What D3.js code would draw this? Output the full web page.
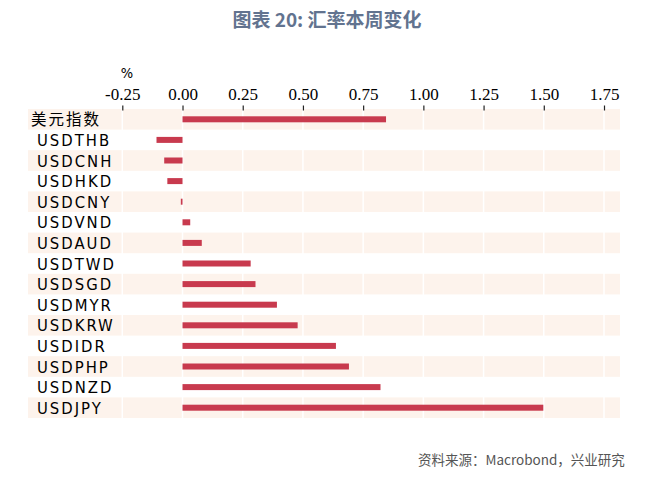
<!DOCTYPE html>
<html>
<head>
<meta charset="utf-8">
<script src="https://cdn.jsdelivr.net/npm/d3@7"></script>
<style>
  body { margin: 0; background: #fff; }
  svg { display: block; }
</style>
</head>
<body>
<div id="chart"></div>
<script>
// Data
var categories = ['美元指数', 'USDTHB', 'USDCNH', 'USDHKD', 'USDCNY', 'USDVND', 'USDAUD',
    'USDTWD', 'USDSGD', 'USDMYR', 'USDKRW', 'USDIDR', 'USDPHP', 'USDNZD', 'USDJPY'];
var weeklyChange = [0.845, -0.108, -0.076, -0.063, -0.007, 0.032, 0.080,
    0.283, 0.303, 0.392, 0.478, 0.637, 0.691, 0.822, 1.498];
var xTicks = [-0.25, 0, 0.25, 0.5, 0.75, 1, 1.25, 1.5, 1.75];

var width = 663, height = 486;
var svg = d3.select('#chart').append('svg')
    .attr('width', width)
    .attr('height', height);

// Title
svg.append('text')
    .attr('x', 327)
    .attr('y', 27)
    .attr('text-anchor', 'middle')
    .style('font-family', '"Noto Sans CJK SC", "Noto Sans", sans-serif')
    .style('font-weight', 'bold')
    .style('font-size', '19px')
    .style('fill', '#62738f')
    .text('图表 20: 汇率本周变化');

// Scales
var x = d3.scaleLinear().domain([-0.25, 1.75]).range([122.3, 604]);
var y = d3.scaleBand().domain(categories).range([109, 418]);
var bandLeft = 28, bandRight = 620;

// Alternating row bands
svg.append('g').selectAll('rect')
    .data(categories.filter(function (d, i) { return i % 2 === 0; }))
    .enter().append('rect')
    .attr('x', bandLeft)
    .attr('y', function (d) { return y(d); })
    .attr('width', bandRight - bandLeft)
    .attr('height', y.bandwidth())
    .attr('fill', '#fdf3ec');

// White vertical grid lines
svg.append('g').selectAll('line')
    .data(xTicks)
    .enter().append('line')
    .attr('x1', function (d) { return x(d); })
    .attr('x2', function (d) { return x(d); })
    .attr('y1', 109)
    .attr('y2', 418)
    .attr('stroke', '#fff')
    .attr('stroke-width', 1.5);

// Top axis (plain hyphen for negatives, as in the source)
var axis = svg.append('g')
    .attr('transform', 'translate(0,110.5)')
    .call(d3.axisTop(x).tickValues(xTicks)
        .tickFormat(function (d) { return d.toFixed(2); })
        .tickSize(5).tickPadding(6));
axis.select('.domain').remove();
axis.selectAll('.tick line').attr('stroke', '#222').attr('stroke-width', 1.2);
axis.selectAll('.tick text')
    .style('font-family', '"Liberation Serif", "Times New Roman", serif')
    .style('font-size', '17px')
    .style('fill', '#000');

// Unit label
svg.append('text')
    .attr('x', 127)
    .attr('y', 78)
    .attr('text-anchor', 'middle')
    .style('font-family', '"DejaVu Sans Condensed", "DejaVu Sans", sans-serif')
    .style('font-size', '14.5px')
    .style('fill', '#000')
    .text('%');

// Bars
var barH = 6;
svg.append('g').selectAll('rect')
    .data(weeklyChange)
    .enter().append('rect')
    .attr('x', function (d) { return x(Math.min(0, d)); })
    .attr('y', function (d, i) { return y(categories[i]) + y.bandwidth() / 2 - barH / 2; })
    .attr('width', function (d) { return Math.max(1.5, Math.abs(x(d) - x(0))); })
    .attr('height', barH)
    .attr('fill', '#c83a4e');

// Category labels
svg.append('g').selectAll('text')
    .data(categories)
    .enter().append('text')
    .attr('x', function (d, i) { return i === 0 ? 31 : 37; })
    .attr('y', function (d) { return y(d) + y.bandwidth() / 2 + 6; })
    .style('font-family', function (d, i) {
        return i === 0 ? '"Noto Sans CJK SC", sans-serif' : '"DejaVu Sans Condensed", "DejaVu Sans", sans-serif';
    })
    .style('font-size', function (d, i) { return i === 0 ? '15.5px' : '16.5px'; })
    .style('letter-spacing', function (d, i) { return i === 0 ? '2px' : '2px'; })
    .style('fill', '#000')
    .text(function (d) { return d; });

// Source note
svg.append('text')
    .attr('x', 418)
    .attr('y', 465)
    .style('font-family', '"Noto Sans CJK SC", sans-serif')
    .style('font-size', '13.5px')
    .style('fill', '#555')
    .text('资料来源：Macrobond，兴业研究');
</script>
</body>
</html>
